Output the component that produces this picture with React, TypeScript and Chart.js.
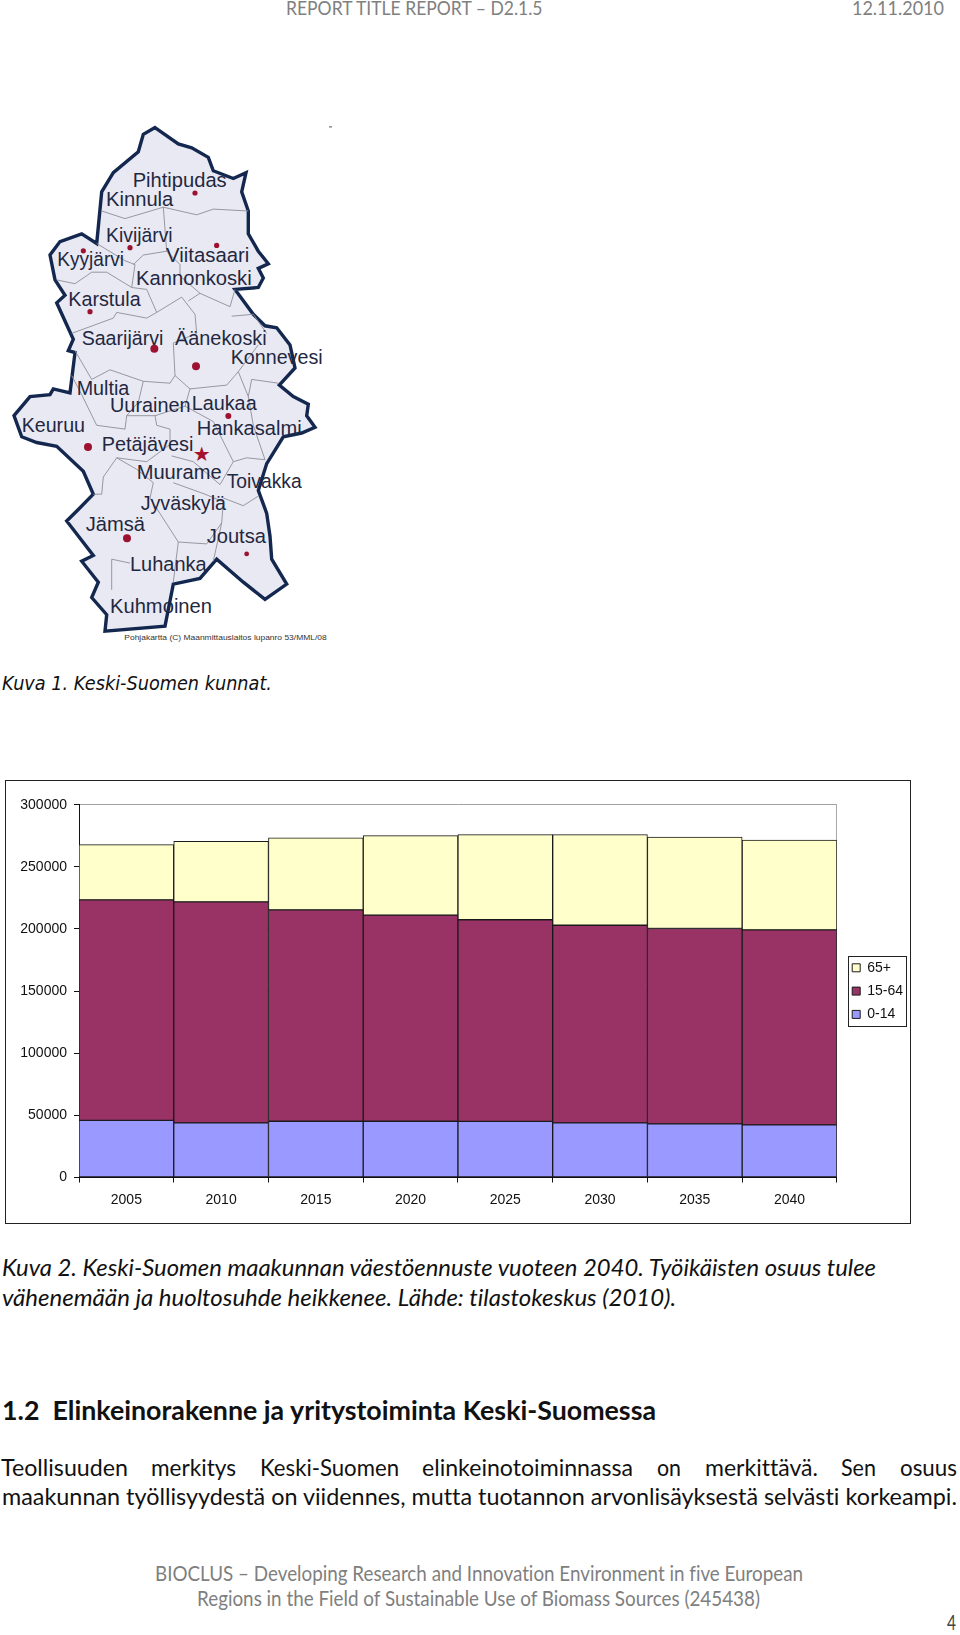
import React, { useEffect, useRef } from "react";
import { Chart, registerables } from "chart.js";

Chart.register(...registerables);

const years = ["2005", "2010", "2015", "2020", "2025", "2030", "2035", "2040"];
const ages0to14 = [46000, 44000, 45300, 45300, 45200, 44000, 43100, 42300];
const ages15to64 = [177400, 177800, 170100, 165800, 162200, 159000, 157300, 157000];
const ages65plus = [44500, 48800, 57900, 64000, 68500, 72900, 73600, 72300];
const seriesNames = ["0-14", "15-64", "65+"];
const seriesColors = ["#9999FF", "#993366", "#FFFFCC"];

// map drawing, in zoomed-crop units
const mapX = (z: number) => z / 3;
const mapY = (z: number) => 100 + z / 2.613;
const outline = [[465,72],[535,115],[575,125],[625,150],[640,185],[700,205],[738,190],[725,240],[745,290],[745,350],[775,395],[805,428],[775,440],[790,465],[775,490],[705,495],[760,560],[795,590],[830,595],[870,640],[885,700],[838,745],[880,775],[925,795],[920,825],[945,855],[905,870],[850,880],[800,950],[775,1020],[800,1080],[810,1140],[815,1200],[860,1265],[795,1305],[730,1260],[650,1200],[600,1250],[520,1265],[495,1375],[315,1388],[320,1345],[275,1300],[295,1260],[245,1205],[280,1190],[200,1100],[235,1070],[280,1030],[250,970],[170,905],[110,895],[65,880],[42,825],[90,775],[150,770],[160,755],[210,765],[225,660],[205,655],[220,625],[170,530],[195,510],[165,470],[150,405],[180,370],[245,350],[290,375],[305,240],[340,190],[415,135],[430,90]];
const borders = [
  [[305,290],[375,310],[490,280],[590,300],[640,285],[745,290]],
  [[490,280],[500,395],[430,405],[400,430]],
  [[500,395],[540,430],[540,460],[600,505],[690,540],[705,495]],
  [[405,430],[395,490],[440,495],[470,555],[545,515],[585,560],[590,610]],
  [[600,505],[565,525]],
  [[170,470],[225,480],[275,450],[320,450],[395,490]],
  [[290,375],[375,420],[405,430]],
  [[215,610],[340,570],[350,555],[440,570],[470,555]],
  [[225,655],[275,730],[330,705],[430,735],[510,740],[525,720],[520,635],[590,610]],
  [[525,720],[570,755],[680,745],[715,710],[775,640]],
  [[695,565],[760,560],[800,610]],
  [[430,735],[415,790],[380,825],[375,860],[290,850],[245,770],[215,720]],
  [[570,755],[555,800],[465,825],[380,825]],
  [[715,710],[745,775],[755,730],[835,740]],
  [[555,800],[640,840],[700,945],[740,935],[795,940],[760,850],[745,775]],
  [[465,825],[470,850],[510,860],[510,900],[440,945],[350,935],[310,985],[305,1030],[280,1030]],
  [[350,935],[410,965],[460,1000],[450,1040],[535,1155],[620,1160],[665,1105],[670,1050],[615,1030],[520,1000]],
  [[515,930],[580,945],[660,1005],[700,945]],
  [[670,1040],[730,1060],[775,1035]],
  [[535,1155],[520,1260]],
  [[390,1210],[335,1200],[335,1280]],
  [[640,1205],[665,1105]],
];
const places: [string, number, number, number][] = [
  ["Pihtipudas",398,680,228],["Kinnula",318,520,278],["Kivijärvi",318,518,370],["Kyyjärvi",172,372,435],
  ["Viitasaari",498,748,423],["Kannonkoski",408,755,483],["Karstula",205,422,537],["Saarijärvi",245,490,640],
  ["Äänekoski",525,800,640],["Konnevesi",692,968,690],["Multia",230,388,770],["Uurainen",330,572,815],
  ["Laukaa",575,770,810],["Hankasalmi",590,905,875],["Keuruu",65,255,868],["Petäjävesi",305,580,918],
  ["Muurame",410,665,990],["Toivakka",680,905,1015],["Jyväskylä",422,678,1072],["Jämsä",257,435,1125],
  ["Joutsa",620,798,1158],["Luhanka",390,620,1232],["Kuhmoinen",330,636,1340],
];
const dots = [[585,243,2.6],[390,386,2.6],[650,380,2.6],[250,394,2.6],[270,553,2.6],[463,650,4],[588,696,4],[685,826,3],[264,907,4],[381,1145,4],[740,1186,2.4]];

const bodyFont = "Lato, 'Open Sans', sans-serif";
type Line = { t: string; x: number; end: number; y: number; size: number; color?: string; italic?: boolean; bold?: boolean; font?: string };
const lines: Line[] = [
  { t: "REPORT TITLE REPORT – D2.1.5", x: 286, end: 542.5, y: 15, size: 20, color: "#808080" },
  { t: "12.11.2010", x: 852, end: 944, y: 15, size: 20, color: "#808080" },
  { t: "Kuva 1. Keski-Suomen kunnat.", x: 2, end: 272, y: 690, size: 19.5, italic: true, font: "'DejaVu Sans', sans-serif" },
  { t: "Kuva 2. Keski-Suomen maakunnan väestöennuste vuoteen 2040. Työikäisten osuus tulee", x: 2, end: 876, y: 1276, size: 23.5, italic: true },
  { t: "vähenemään ja huoltosuhde heikkenee. Lähde: tilastokeskus (2010).", x: 2, end: 676, y: 1306, size: 23.5, italic: true },
  { t: "1.2  Elinkeinorakenne ja yritystoiminta Keski-Suomessa", x: 2, end: 656, y: 1420, size: 27.5, bold: true },
  { t: "Teollisuuden", x: 1, end: 128, y: 1476, size: 23.5 },
  { t: "merkitys", x: 151, end: 236, y: 1476, size: 23.5 },
  { t: "Keski-Suomen", x: 260, end: 399, y: 1476, size: 23.5 },
  { t: "elinkeinotoiminnassa", x: 422, end: 633, y: 1476, size: 23.5 },
  { t: "on", x: 657, end: 681, y: 1476, size: 23.5 },
  { t: "merkittävä.", x: 705, end: 818, y: 1476, size: 23.5 },
  { t: "Sen", x: 841, end: 876, y: 1476, size: 23.5 },
  { t: "osuus", x: 900, end: 957, y: 1476, size: 23.5 },
  { t: "maakunnan työllisyydestä on viidennes, mutta tuotannon arvonlisäyksestä selvästi korkeampi.", x: 2, end: 957, y: 1505, size: 23.5 },
  { t: "BIOCLUS – Developing Research and Innovation Environment in five European", x: 155, end: 803, y: 1581, size: 20.5, color: "#7f7f7f" },
  { t: "Regions in the Field of Sustainable Use of Biomass Sources (245438)", x: 197, end: 760, y: 1606, size: 20.5, color: "#7f7f7f" },
  { t: "4", x: 947, end: 956, y: 1630, size: 21, color: "#444" },
];

function points(p: number[][]) {
  return p.map(([x, y]) => `${mapX(x).toFixed(1)},${mapY(y).toFixed(1)}`).join(" ");
}

export default function App() {
  const ref = useRef<HTMLCanvasElement>(null);
  useEffect(() => {
    const frameLegend = {
      id: "frameLegend",
      afterLayout(c: any) {
        c.legend.left += 6;
        c.legend.right += 6;
      },
      afterDraw(c: any) {
        const l = c.legend;
        const cy = (l.top + l.bottom) / 2;
        const g = c.ctx;
        g.save();
        g.strokeStyle = "#222";
        g.lineWidth = 1;
        g.strokeRect(Math.round(l.left + 5.3) + 0.5, Math.round(cy - 35.5) + 0.5, 58, 70);
        g.restore();
      },
    };
    const data = [ages0to14, ages15to64, ages65plus];
    const font = { family: "'Liberation Sans', Arial, sans-serif", size: 14 };
    const chart = new Chart(ref.current!, {
      type: "bar",
      data: {
        labels: years,
        datasets: seriesNames.map((n, i) => ({
          label: n,
          data: data[i],
          backgroundColor: seriesColors[i],
          borderColor: "#1a1a1a",
          borderWidth: 1,
          borderSkipped: false,
          barPercentage: 1,
          categoryPercentage: 1,
        })),
      },
      options: {
        responsive: false,
        animation: false,
        events: [],
        layout: { padding: { left: 0, top: 23.7, right: 3, bottom: 5.7 } },
        plugins: {
          title: { display: false },
          tooltip: { enabled: false },
          legend: {
            position: "right",
            fullSize: false,
            reverse: true,
            labels: {
              boxWidth: 8,
              boxHeight: 8,
              padding: 9.3,
              color: "#111",
              font,
            },
          },
        },
        scales: {
          x: {
            stacked: true,
            offset: true,
            border: { color: "#111", width: 1 },
            grid: {
              offset: true,
              drawOnChartArea: true,
              tickLength: 5,
              tickColor: "#111",
              color: (ctx: any) => (ctx.index === undefined ? "#a8a8a8" : "rgba(0,0,0,0)"),
            },
            ticks: { color: "#111", font, padding: 9, maxRotation: 0 },
          },
          y: {
            stacked: true,
            min: 0,
            max: 300000,
            afterFit: (s: any) => {
              s.width = 73;
            },
            border: { color: "#111", width: 1 },
            grid: { color: "#a0a0a0", tickColor: "#111", tickLength: 5 },
            ticks: {
              stepSize: 50000,
              color: "#111",
              font,
              padding: 7,
              callback: (v: any) => String(v),
            },
          },
        },
      },
      plugins: [frameLegend],
    } as any);
    return () => chart.destroy();
  }, []);

  return (
    <div style={{ position: "absolute", left: 0, top: 0, width: 960, height: 1635, overflow: "hidden", background: "#fff" }}>
      <svg width={960} height={1635} viewBox="0 0 960 1635" style={{ position: "absolute", left: 0, top: 0, fontVariantLigatures: "none" }}>
        <polygon points={points(outline)} fill="#e9e9f4" stroke="#14284f" strokeWidth={3.4} />
        {borders.map((b, i) => (
          <polyline key={i} points={points(b)} fill="none" stroke="#8d8d96" strokeWidth={0.9} />
        ))}
        {dots.map(([x, y, r], i) => (
          <circle key={i} cx={mapX(x)} cy={mapY(y)} r={r} fill="#9c1230" />
        ))}
        <text x={mapX(578)} y={mapY(942)} fontSize={20} fill="#a5122f" fontFamily="'DejaVu Sans'">★</text>
        {places.map(([t, a, b, y]) => (
          <text key={t} x={mapX(a)} y={mapY(y)} textLength={mapX(b) - mapX(a)} lengthAdjust="spacingAndGlyphs"
            fontFamily="'Liberation Sans', sans-serif" fontSize={20.5} fill="#1f2840">{t}</text>
        ))}
        <text x={mapX(373)} y={mapY(1411)} textLength={mapX(980) - mapX(373)} lengthAdjust="spacingAndGlyphs"
          fontFamily="'Liberation Sans', sans-serif" fontSize={8} fill="#333">Pohjakartta (C) Maanmittauslaitos lupanro 53/MML/08</text>
        <rect x={mapX(987)} y={mapY(69)} width={3} height={1} fill="#555" />
        {lines.map((l, i) => (
          <text key={i} x={l.x} y={l.y} textLength={l.end - l.x} lengthAdjust="spacingAndGlyphs"
            fontFamily={l.font ?? bodyFont} fontSize={l.size} fill={l.color ?? "#111"}
            fontStyle={l.italic ? "italic" : "normal"} fontWeight={l.bold ? 700 : 400} style={{ whiteSpace: "pre" }}>{l.t}</text>
        ))}
      </svg>
      <div style={{ position: "absolute", left: 6, top: 781, width: 904, height: 442, outline: "1.5px solid #222", background: "#fff" }}>
        <canvas ref={ref} width={904} height={442} style={{ display: "block" }} />
      </div>
    </div>
  );
}
